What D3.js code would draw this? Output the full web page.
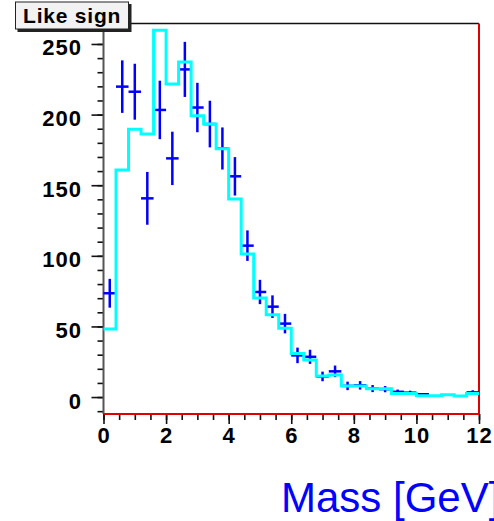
<!DOCTYPE html>
<html>
<head>
<meta charset="utf-8">
<script src="https://cdn.jsdelivr.net/npm/d3@7"></script>
<style>
    body { margin: 0; background: #fff; }
    svg { display: block; }
</style>
</head>
<body>
<div id="chart"></div>
<script>
// bin edges: 30 bins of 0.4 GeV between 0 and 12
let bin_lo = 0, bin_hi = 12, bin_count = 30;

// blue points (data) and their error bars
let data_values = [73.5, 219.8, 216.2, 140.7, 203.3, 169, 232, 205, 193.3, 176,
    156.3, 107.2, 74.4, 64, 52, 29.5, 28.5, 14.6, 18.2, 7.9,
    8.3, 6, 5.6, 3.7, 3.1, 2, 0, 0, 0, 3.3];
let data_errors = [10.2, 18.6, 19.8, 18.7, 20.7, 18.9, 19.5, 17.5, 16.5, 14.9,
    13.6, 10.8, 8.6, 8.0, 6.9, 5.5, 5.0, 3.4, 4.1, 3.0,
    3.0, 2.5, 2.2, 1.6, 1.4, 0.6, 0, 0, 0, 1.5];

// cyan histogram
let mc_values = [48.2, 160.8, 189.6, 186.3, 259.7, 221.7, 237.3, 199.2, 193.3, 175.8,
    140.2, 101.3, 70.1, 58.3, 48.8, 30.9, 26.2, 14.9, 15.6, 7.8,
    7.8, 5.9, 5.9, 2.6, 2.6, 0.9, 0.9, 1.7, 0.7, 2.6];

let x_ticks = [0, 2, 4, 6, 8, 10, 12];
let y_ticks = [0, 50, 100, 150, 200, 250];

let title = 'Like sign';
let x_title = 'Mass [GeV]';

let width = 494, height = 521;
let frame = { left: 103.5, right: 479, top: 23.5, bottom: 414 };
let font = "'Liberation Sans', Helvetica, Arial, sans-serif";

let svg = d3.select('#chart')
    .append('svg')
    .attr('width', width)
    .attr('height', height);

let x = d3.scaleLinear().domain([bin_lo, bin_hi]).range([frame.left, frame.right]);
let y = d3.scaleLinear().domain([-12, 264.5]).range([frame.bottom, frame.top]);

let bin_width = (bin_hi - bin_lo) / bin_count;
let bins = d3.range(bin_count).map(function (i)
{
    return {
        lo: bin_lo + i * bin_width,
        hi: bin_lo + (i + 1) * bin_width,
        mid: bin_lo + (i + 0.5) * bin_width,
        value: data_values[i],
        error: data_errors[i],
        mc: mc_values[i]
    };
});

// axes
let y_minor = d3.axisLeft(y).tickValues(d3.range(-10, 261, 10)).tickSize(6).tickFormat('');
let y_major = d3.axisLeft(y).tickValues(y_ticks).tickSize(12).tickPadding(9.5);
let x_minor = d3.axisBottom(x).tickValues(d3.range(0, 12.01, 0.5)).tickSize(6).tickFormat('');
let x_major = d3.axisBottom(x).tickValues(x_ticks).tickSize(10).tickPadding(3.5);

function style_axis(g)
{
    g.select('.domain').remove();
    g.selectAll('line').attr('stroke', '#111').attr('stroke-width', 1.6);
    g.selectAll('text')
        .attr('fill', '#000')
        .attr('font-family', font)
        .attr('font-weight', 'bold')
        .attr('font-size', '22px')
        .attr('letter-spacing', '1px');
}

svg.append('g').attr('transform', 'translate(' + frame.left + ',0)').call(y_minor).call(style_axis);
svg.append('g').attr('transform', 'translate(' + frame.left + ',0)').call(y_major).call(style_axis)
    .selectAll('text').attr('dy', '0.5em');
svg.append('g').attr('transform', 'translate(0,' + frame.bottom + ')').call(x_minor).call(style_axis);
svg.append('g').attr('transform', 'translate(0,' + frame.bottom + ')').call(x_major).call(style_axis);

// frame
svg.append('line')
    .attr('x1', frame.left).attr('x2', frame.right)
    .attr('y1', frame.top).attr('y2', frame.top)
    .attr('stroke', '#111').attr('stroke-width', 1.6);
svg.append('line')
    .attr('x1', frame.left).attr('x2', frame.left)
    .attr('y1', frame.top).attr('y2', frame.bottom)
    .attr('stroke', '#555').attr('stroke-width', 2);
svg.append('line')
    .attr('x1', frame.left).attr('x2', frame.right)
    .attr('y1', frame.bottom).attr('y2', frame.bottom)
    .attr('stroke', '#e00000').attr('stroke-width', 2);
svg.append('line')
    .attr('x1', frame.right).attr('x2', frame.right)
    .attr('y1', frame.top).attr('y2', frame.bottom)
    .attr('stroke', '#e00000').attr('stroke-width', 2);

// data points with error bars
let points = svg.append('g')
    .selectAll('g')
    .data(bins.filter(function (d) { return d.value > 0; }))
    .join('g')
    .attr('stroke', '#0000ff')
    .attr('stroke-width', 2.5);

points.append('line')
    .attr('x1', function (d) { return x(d.mid); })
    .attr('x2', function (d) { return x(d.mid); })
    .attr('y1', function (d) { return y(d.value - d.error); })
    .attr('y2', function (d) { return y(d.value + d.error); });

points.append('line')
    .attr('x1', function (d) { return x(d.lo); })
    .attr('x2', function (d) { return x(d.hi); })
    .attr('y1', function (d) { return y(d.value); })
    .attr('y2', function (d) { return y(d.value); });

// histogram drawn as steps on top
let step = d3.line()
    .x(function (d) { return x(d[0]); })
    .y(function (d) { return y(d[1]); });

let step_points = [];
bins.forEach(function (d)
{
    step_points.push([d.lo, d.mc]);
    step_points.push([d.hi, d.mc]);
});

svg.append('path')
    .datum(step_points)
    .attr('d', step)
    .attr('fill', 'none')
    .attr('stroke', '#00ffff')
    .attr('stroke-width', 3);

// title box
svg.append('rect')
    .attr('x', 17.5).attr('y', 4)
    .attr('width', 114).attr('height', 28)
    .attr('fill', '#222');
svg.append('rect')
    .attr('x', 15.5).attr('y', 2)
    .attr('width', 113).attr('height', 27)
    .attr('fill', '#f2f2f2')
    .attr('stroke', '#222')
    .attr('stroke-width', 1);
svg.append('text')
    .attr('x', 23).attr('y', 22.5)
    .attr('font-family', font)
    .attr('font-weight', 'bold')
    .attr('font-size', '21px')
    .attr('letter-spacing', '0.8px')
    .attr('fill', '#000')
    .text(title);

// x axis title
svg.append('text')
    .attr('x', 281).attr('y', 512)
    .attr('font-family', font)
    .attr('font-size', '42px')
    .attr('fill', '#0000ff')
    .text(x_title);
</script>
</body>
</html>
